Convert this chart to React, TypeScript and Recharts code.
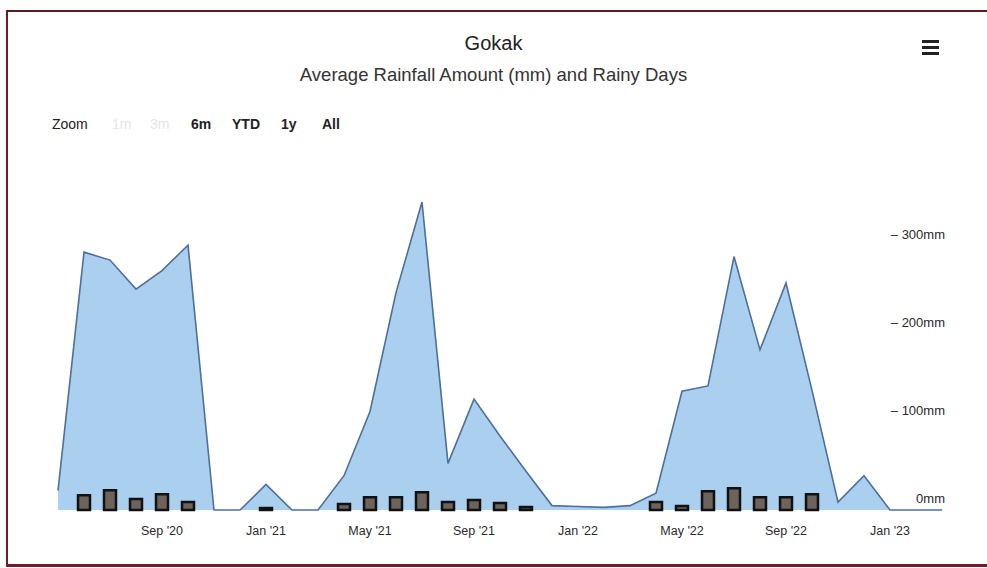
import React from "react";
import { ComposedChart, Area, Bar, XAxis, YAxis } from "recharts";

const months = [
  "May '20", "Jun '20", "Jul '20", "Aug '20", "Sep '20", "Oct '20", "Nov '20", "Dec '20",
  "Jan '21", "Feb '21", "Mar '21", "Apr '21", "May '21", "Jun '21", "Jul '21", "Aug '21",
  "Sep '21", "Oct '21", "Nov '21", "Dec '21", "Jan '22", "Feb '22", "Mar '22", "Apr '22",
  "May '22", "Jun '22", "Jul '22", "Aug '22", "Sep '22", "Oct '22", "Nov '22", "Dec '22",
  "Jan '23", "Feb '23", "Mar '23",
];

const rainfallMm = [
  22, 293, 284, 251, 272, 301, 0, 0,
  29, 0, 0, 39, 112, 247, 350, 53,
  126, 84, 44, 5, 4, 3, 5, 19,
  135, 141, 288, 182, 258, 136, 9, 39,
  0, 0, 0,
];

const rainyDays = [
  0, 15, 20, 11, 16, 8, 0, 0,
  2, 0, 0, 6, 13, 13, 18, 8,
  10, 7, 3, 0, 0, 0, 0, 8,
  4, 19, 22, 13, 13, 16, 0, 0,
  0, 0, 0,
];

const xTickLabels = ["Sep '20", "Jan '21", "May '21", "Sep '21", "Jan '22", "May '22", "Sep '22", "Jan '23"];
const yTicks = [0, 100, 200, 300];

const data = months.map((m, i) => ({ month: m, rain: rainfallMm[i], days: rainyDays[i] }));

const W = 987;
const H = 568;
const margin = { top: 158, right: 32, bottom: 28, left: 45 };
const FONT = "'Liberation Sans', Arial, sans-serif";

const XTick = (props: any) => {
  const { x, y, payload } = props;
  if (!xTickLabels.includes(payload.value)) return null;
  return (
    <text x={x} y={y + 17} textAnchor="middle" fontSize={12.5} fill="#2a2a2a" fontFamily={FONT}>
      {payload.value}
    </text>
  );
};

const YTick = (props: any) => {
  const { y, payload } = props;
  const label = payload.value === 0 ? "0mm" : `\u2013 ${payload.value}mm`;
  return (
    <text x={W - margin.right - 10} y={y - 7} textAnchor="end" fontSize={13} fill="#2a2a2a" fontFamily={FONT}>
      {label}
    </text>
  );
};

export default function App() {
  return (
    <div style={{ position: "absolute", left: 0, top: 0, width: W, height: H, background: "#fff", overflow: "hidden" }}>
      <div style={{ position: "absolute", left: 6, top: 10, width: 990, height: 552, borderLeft: "2px solid #6e1c26", borderTop: "2px solid #5a1a20", borderBottom: "3px solid #6e1c26" }} />
      <div style={{ position: "absolute", left: 0, width: W, top: 32, textAlign: "center", fontFamily: FONT, fontSize: 20, color: "#222" }}>
        Gokak
      </div>
      <div style={{ position: "absolute", left: 0, width: W, top: 64, textAlign: "center", fontFamily: FONT, fontSize: 18.5, color: "#333" }}>
        Average Rainfall Amount (mm) and Rainy Days
      </div>
      <div style={{ position: "absolute", left: 922, top: 40 }}>
        <div style={{ width: 17, height: 3, background: "#222", marginBottom: 3 }} />
        <div style={{ width: 17, height: 3, background: "#222", marginBottom: 3 }} />
        <div style={{ width: 17, height: 3, background: "#222" }} />
      </div>
      <div style={{ position: "absolute", top: 116, left: 0, fontFamily: FONT, fontSize: 14, color: "#222" }}>
        <span style={{ position: "absolute", left: 52 }}>Zoom</span>
        <span style={{ position: "absolute", left: 112, color: "#e6e6e6" }}>1m</span>
        <span style={{ position: "absolute", left: 150, color: "#e6e6e6" }}>3m</span>
        <span style={{ position: "absolute", left: 191, fontWeight: "bold" }}>6m</span>
        <span style={{ position: "absolute", left: 232, fontWeight: "bold" }}>YTD</span>
        <span style={{ position: "absolute", left: 281, fontWeight: "bold" }}>1y</span>
        <span style={{ position: "absolute", left: 322, fontWeight: "bold" }}>All</span>
      </div>
      <ComposedChart width={W} height={H} data={data} margin={margin} style={{ position: "absolute", left: 0, top: 0 }}>
        <XAxis dataKey="month" height={30} axisLine={false} tickLine={false} interval={0} tick={<XTick />} />
        <YAxis yAxisId="mm" orientation="right" mirror width={60} domain={[0, 400]} ticks={yTicks} axisLine={false} tickLine={false} tick={YTick} />
        <YAxis yAxisId="days" hide domain={[0, 356]} />
        <Area
          yAxisId="mm"
          dataKey="rain"
          type="linear"
          stroke="#4d6f9c"
          strokeWidth={1.6}
          fill="#abcfef"
          fillOpacity={1}
          dot={false}
          activeDot={false}
          isAnimationActive={false}
        />
        <Bar yAxisId="days" dataKey="days" barSize={12} fill="#6e625c" stroke="#111" strokeWidth={2.5} isAnimationActive={false} />
      </ComposedChart>
    </div>
  );
}
